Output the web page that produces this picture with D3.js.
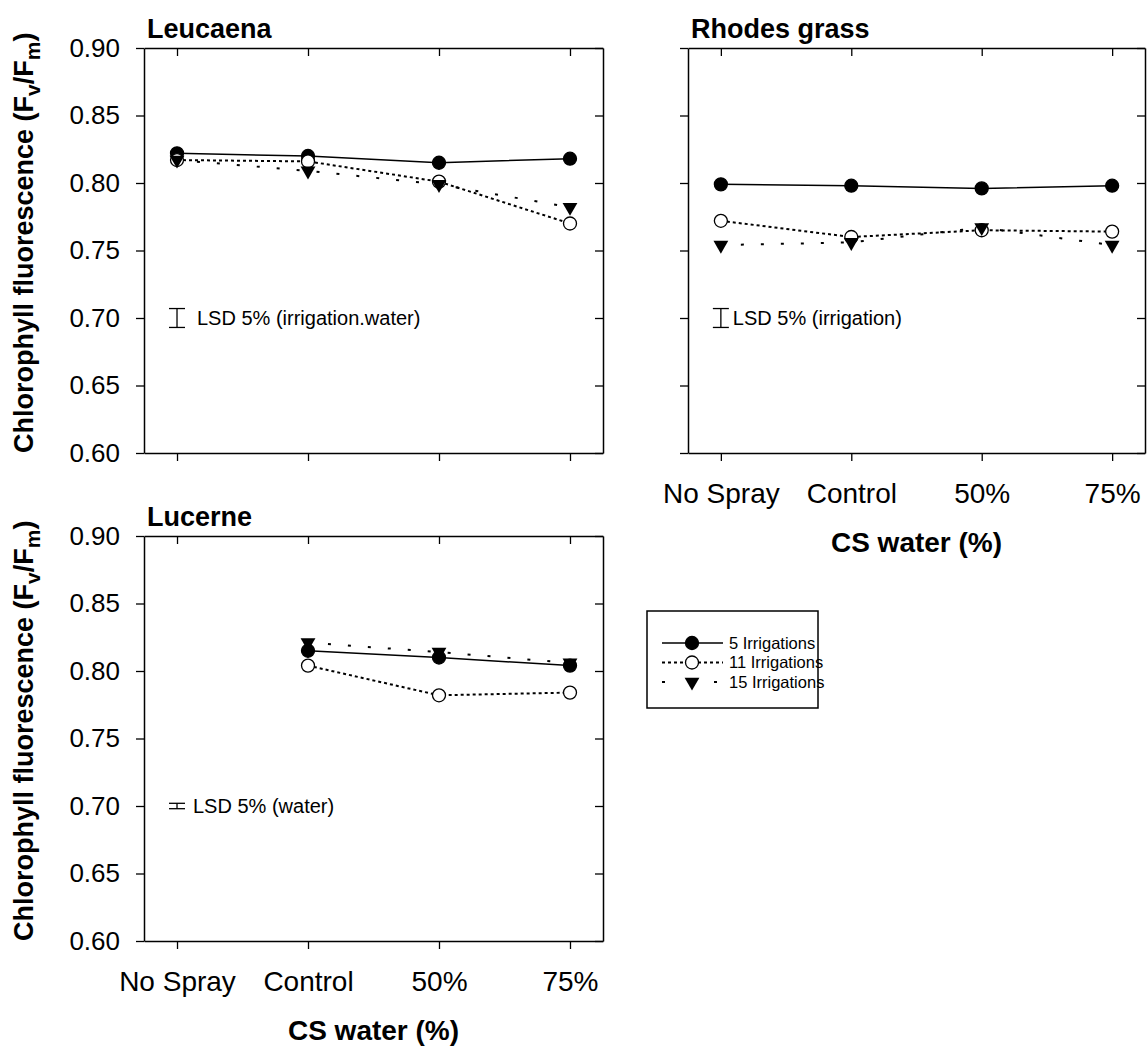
<!DOCTYPE html>
<html lang="en">
<head>
    <meta charset="UTF-8">
    <title>Chlorophyll fluorescence</title>
    <script src="https://d3js.org/d3.v7.min.js"></script>
    <style>
        body {
            margin: 0;
            background: #fff;
            font-family: "Liberation Sans", Arial, sans-serif;
        }
    </style>
</head>
<body>
    <script>
        // Data
        const categories = ["No Spray", "Control", "50%", "75%"];
        const yTicks = [0.60, 0.65, 0.70, 0.75, 0.80, 0.85, 0.90];
        const seriesNames = ["5 Irrigations", "11 Irrigations", "15 Irrigations"];

        const leucaena5 = [0.822, 0.820, 0.815, 0.818];
        const leucaena11 = [0.817, 0.816, 0.801, 0.770];
        const leucaena15 = [0.817, 0.809, 0.799, 0.782];

        const rhodes5 = [0.799, 0.798, 0.796, 0.798];
        const rhodes11 = [0.772, 0.760, 0.765, 0.764];
        const rhodes15 = [0.754, 0.756, 0.767, 0.754];

        const lucerne5 = [null, 0.815, 0.810, 0.804];
        const lucerne11 = [null, 0.804, 0.782, 0.784];
        const lucerne15 = [null, 0.821, 0.814, 0.806];

        const lsdValues = [0.014, 0.014, 0.004];
        const lsdLabels = ["LSD 5% (irrigation.water)", "LSD 5% (irrigation)", "LSD 5% (water)"];

        // Set up
        const width = 1148;
        const height = 1048;

        const svg = d3.select("body").append("svg")
            .attr("width", width)
            .attr("height", height)
            .style("font-family", "'Liberation Sans', Arial, sans-serif");

        const panels = [
            { title: "Leucaena", x0: 144, x1: 603, y0: 48, y1: 453, yLabels: true, xLabels: false,
              series: [leucaena5, leucaena11, leucaena15], lsd: lsdValues[0], lsdText: lsdLabels[0], lsdGap: 20 },
            { title: "Rhodes grass", x0: 688, x1: 1145, y0: 48, y1: 453, yLabels: false, xLabels: true,
              series: [rhodes5, rhodes11, rhodes15], lsd: lsdValues[1], lsdText: lsdLabels[1], lsdGap: 12 },
            { title: "Lucerne", x0: 144, x1: 603, y0: 536, y1: 941, yLabels: true, xLabels: true,
              series: [lucerne5, lucerne11, lucerne15], lsd: lsdValues[2], lsdText: lsdLabels[2], lsdGap: 16 }
        ];

        // line styles per series: solid, short dots, sparse dots
        const dashes = [null, "3,3", "3,17"];
        const fills = ["#000", "#fff", "#000"];

        const triangleDown = d3.symbol().type(d3.symbolTriangle).size(95);

        function drawMarker(g, i, x, y) {
            if (i === 2) {
                g.append("path")
                    .attr("d", triangleDown)
                    .attr("transform", `translate(${x},${y}) rotate(180)`)
                    .attr("fill", "#000");
            } else {
                g.append("circle")
                    .attr("cx", x)
                    .attr("cy", y)
                    .attr("r", 6.5)
                    .attr("fill", fills[i])
                    .attr("stroke", "#000")
                    .attr("stroke-width", 1.3);
            }
        }

        panels.forEach(p => {
            const x = d3.scalePoint()
                .domain(categories)
                .range([p.x0, p.x1])
                .padding(0.252);

            const y = d3.scaleLinear()
                .domain([0.60, 0.90])
                .range([p.y1, p.y0]);

            const g = svg.append("g");

            // axes - left/bottom ticks outward, top/right inward
            const left = g.append("g")
                .attr("transform", `translate(${p.x0},0)`)
                .call(d3.axisLeft(y).tickValues(yTicks).tickSize(8).tickSizeOuter(0).tickPadding(16)
                    .tickFormat(d3.format(".2f")));
            if (!p.yLabels) left.selectAll("text").remove();

            g.append("g")
                .attr("transform", `translate(${p.x1},0)`)
                .call(d3.axisRight(y).tickValues(yTicks).tickSize(-8).tickSizeOuter(0).tickFormat(""));

            g.append("g")
                .attr("transform", `translate(0,${p.y0})`)
                .call(d3.axisTop(x).tickSize(-8).tickSizeOuter(0).tickFormat(""));

            const bottom = g.append("g")
                .attr("transform", `translate(0,${p.y1})`)
                .call(d3.axisBottom(x).tickSize(8).tickSizeOuter(0).tickPadding(22));
            if (!p.xLabels) bottom.selectAll("text").remove();

            g.selectAll(".domain").attr("stroke", "#000").attr("stroke-width", 1.5);
            g.selectAll(".tick line").attr("stroke", "#000").attr("stroke-width", 1.3);
            left.selectAll("text").attr("font-size", 26).attr("fill", "#000");
            bottom.selectAll("text").attr("font-size", 28).attr("fill", "#000");
            g.selectAll(".tick text").style("font-family", "'Liberation Sans', Arial, sans-serif");

            // title
            g.append("text")
                .attr("x", p.x0 + 3)
                .attr("y", p.y0 - 10)
                .attr("font-size", 27)
                .attr("font-weight", "bold")
                .text(p.title);

            // y label
            if (p.yLabels) {
                const yl = g.append("text")
                    .attr("transform", `translate(33,${p.y1}) rotate(-90)`)
                    .attr("font-size", 27)
                    .attr("font-weight", "bold");
                yl.append("tspan").text("Chlorophyll fluorescence (F");
                yl.append("tspan").attr("font-size", 21).attr("dy", 7).text("v");
                yl.append("tspan").attr("dy", -7).text("/F");
                yl.append("tspan").attr("font-size", 21).attr("dy", 7).text("m");
                yl.append("tspan").attr("dy", -7).text(")");
            }

            // x label
            if (p.xLabels) {
                g.append("text")
                    .attr("x", (p.x0 + p.x1) / 2)
                    .attr("y", p.y1 + 99)
                    .attr("text-anchor", "middle")
                    .attr("font-size", 28)
                    .attr("font-weight", "bold")
                    .text("CS water (%)");
            }

            // series lines
            p.series.forEach((vals, i) => {
                const line = d3.line()
                    .defined(d => d != null)
                    .x((d, j) => x(categories[j]))
                    .y(d => y(d));
                g.append("path")
                    .datum(vals)
                    .attr("d", line)
                    .attr("fill", "none")
                    .attr("stroke", "#000")
                    .attr("stroke-width", i === 0 ? 1.5 : 2)
                    .attr("stroke-dasharray", dashes[i]);
            });

            // markers
            p.series.forEach((vals, i) => {
                vals.forEach((v, j) => {
                    if (v == null) return;
                    drawMarker(g, i, x(categories[j]), y(v));
                });
            });

            // LSD bar
            const bx = x(categories[0]);
            const half = p.lsd / 2;
            const lsd = g.append("g").attr("stroke", "#000").attr("stroke-width", 1.3);
            lsd.append("line").attr("x1", bx).attr("x2", bx).attr("y1", y(0.70 + half)).attr("y2", y(0.70 - half));
            lsd.append("line").attr("x1", bx - 8).attr("x2", bx + 8).attr("y1", y(0.70 + half)).attr("y2", y(0.70 + half));
            lsd.append("line").attr("x1", bx - 8).attr("x2", bx + 8).attr("y1", y(0.70 - half)).attr("y2", y(0.70 - half));
            g.append("text")
                .attr("x", bx + p.lsdGap)
                .attr("y", y(0.70))
                .attr("dy", "0.35em")
                .attr("font-size", 20)
                .text(p.lsdText);
        });

        // Legend
        const legend = svg.append("g");
        legend.append("rect")
            .attr("x", 647)
            .attr("y", 611)
            .attr("width", 171)
            .attr("height", 97)
            .attr("fill", "#fff")
            .attr("stroke", "#000")
            .attr("stroke-width", 1.5);

        const legendDashes = [null, "3,3", "3,49"];
        seriesNames.forEach((name, i) => {
            const ly = 643 + i * 19.5;
            legend.append("line")
                .attr("x1", 662)
                .attr("x2", 723)
                .attr("y1", ly)
                .attr("y2", ly)
                .attr("stroke", "#000")
                .attr("stroke-width", i === 0 ? 1.5 : 2)
                .attr("stroke-dasharray", legendDashes[i]);
            drawMarker(legend, i, 692, ly);
            legend.append("text")
                .attr("x", 729)
                .attr("y", ly)
                .attr("dy", "0.35em")
                .attr("font-size", 16.5)
                .text(name);
        });
    </script>
</body>
</html>
